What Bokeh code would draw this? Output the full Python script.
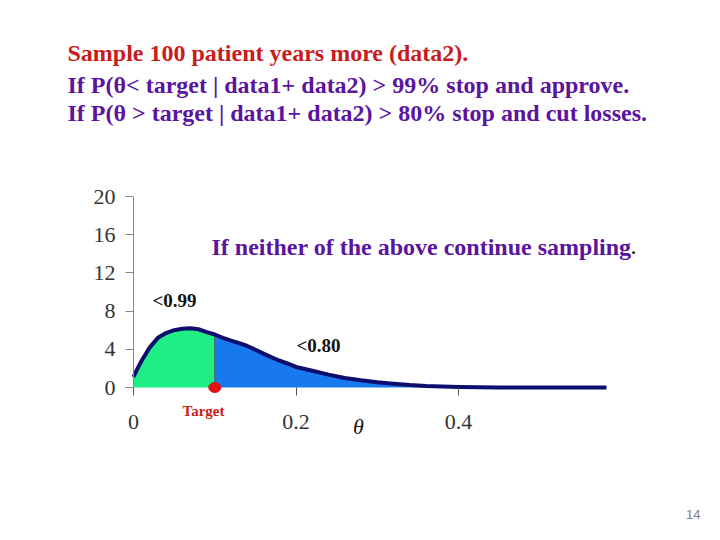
import numpy as np
from bokeh.plotting import figure
from bokeh.models import Range1d, Label, FixedTicker
from bokeh.embed import file_html
from bokeh.resources import INLINE

# ---- data ----
theta = [0.000, 0.005, 0.010, 0.020, 0.030, 0.040, 0.050, 0.060, 0.070, 0.080,
         0.090, 0.100, 0.110, 0.120, 0.130, 0.140, 0.150, 0.160, 0.170, 0.180,
         0.190, 0.200, 0.220, 0.240, 0.260, 0.280, 0.300, 0.320, 0.340, 0.360,
         0.380, 0.400, 0.450, 0.500, 0.582]
density = [1.1, 2.0, 2.8, 4.2, 5.2, 5.7, 6.0, 6.15, 6.2, 6.1,
           5.8, 5.55, 5.2, 4.9, 4.65, 4.35, 3.95, 3.55, 3.15, 2.8,
           2.5, 2.15, 1.75, 1.35, 1.0, 0.75, 0.55, 0.4, 0.25, 0.15,
           0.1, 0.05, 0.0, 0.0, 0.0]
target = 0.1
x_ticks = [0, 0.2, 0.4]
x_tick_labels = ["0", "0.2", "0.4"]
y_ticks = [0, 4, 8, 12, 16, 20]

th = np.array(theta)
de = np.array(density)
t_val = float(np.interp(target, th, de))
left = th <= target
right = th >= target

W, H = 704, 524
# plot area spans the whole canvas; axes are pinned inside at theta=0 / density=0
X0, X1 = 133, 606          # canvas px of theta=0 and theta=0.582
Y0, Y20 = 387, 196         # canvas px of density=0 and density=20
sx = (X1 - X0) / 0.582
sy = (Y0 - Y20) / 20.0
xr = Range1d(-X0 / sx, (W - X0) / sx)
yr = Range1d(-(H - Y0) / sy, Y0 / sy)

p = figure(width=W, height=H, output_backend="svg", toolbar_location=None,
           x_range=xr, y_range=yr,
           min_border_left=0, min_border_right=0, min_border_top=0, min_border_bottom=0)
p.outline_line_color = None
p.grid.visible = False
p.background_fill_color = "white"

# fills
p.varea(x=th[left], y1=0, y2=de[left], fill_color="#1FEE84")
p.varea(x=th[right], y1=0, y2=de[right], fill_color="#1878EE")
p.segment(x0=[target], y0=[0], x1=[target], y1=[t_val], line_color="#555555", line_width=1)
p.line(theta, density, line_color="#0E0E6E", line_width=4, line_join="round")
p.ellipse(x=[target], y=[0], width=12, height=10, width_units="screen",
          height_units="screen", fill_color="#E51010", line_color="#E51010")

# axes
xa = p.xaxis[0]
xa.fixed_location = 0
xa.ticker = FixedTicker(ticks=x_ticks)
xa.major_label_overrides = {k: v for k, v in zip(x_ticks, x_tick_labels)}
xa.axis_line_color = None
xa.major_tick_line_color = "#555555"
xa.major_tick_out = 8
xa.major_tick_in = 0
xa.minor_tick_line_color = None
xa.major_label_standoff = 19
xa.major_label_text_font = "Liberation Serif"
xa.major_label_text_font_size = "22px"
xa.major_label_text_color = "#333333"

ya = p.yaxis[0]
ya.fixed_location = 0
ya.bounds = (0, 20)
ya.ticker = FixedTicker(ticks=y_ticks)
ya.axis_line_color = "#888888"
ya.major_tick_line_color = "#888888"
ya.major_tick_out = 8
ya.major_tick_in = 0
ya.minor_tick_line_color = None
ya.major_label_standoff = 10
ya.major_label_text_font = "Liberation Serif"
ya.major_label_text_font_size = "22px"
ya.major_label_text_color = "#333333"

# label positions: canvas px from the left, and from the top (converted)
def lab(text, x, y_top, size, color, style="bold", font="Liberation Serif", align="left"):
    p.add_layout(Label(x=x, y=H - y_top, x_units="screen", y_units="screen", text=text,
                       text_font=font, text_font_size=size, text_font_style=style,
                       text_color=color, text_align=align, text_baseline="alphabetic"))

lab("Sample 100 patient years more (data2).", 67, 52, "24px", "#C81C1C")
lab("If P(\u03b8< target | data1+ data2) > 99% stop and approve.", 67, 84, "24px", "#5A14A0")
lab("If P(\u03b8 > target | data1+ data2) > 80% stop and cut losses.", 67, 112, "24px", "#5A14A0")
lab("If neither of the above continue sampling", 211, 246, "24px", "#5A14A0")
lab(".", 630, 246, "24px", "#000000", style="normal")
lab("<0.99", 152, 300, "19px", "#111111")
lab("<0.80", 296, 345, "19px", "#111111")
lab("Target", 203, 410, "15px", "#D01818", align="center")
lab("\u03b8", 358, 426, "22px", "#111111", style="italic", align="center")
lab("14", 700, 514, "13px", "#808080", style="normal", font="Liberation Sans", align="right")

open("out.html", "w").write(file_html(p, INLINE))
